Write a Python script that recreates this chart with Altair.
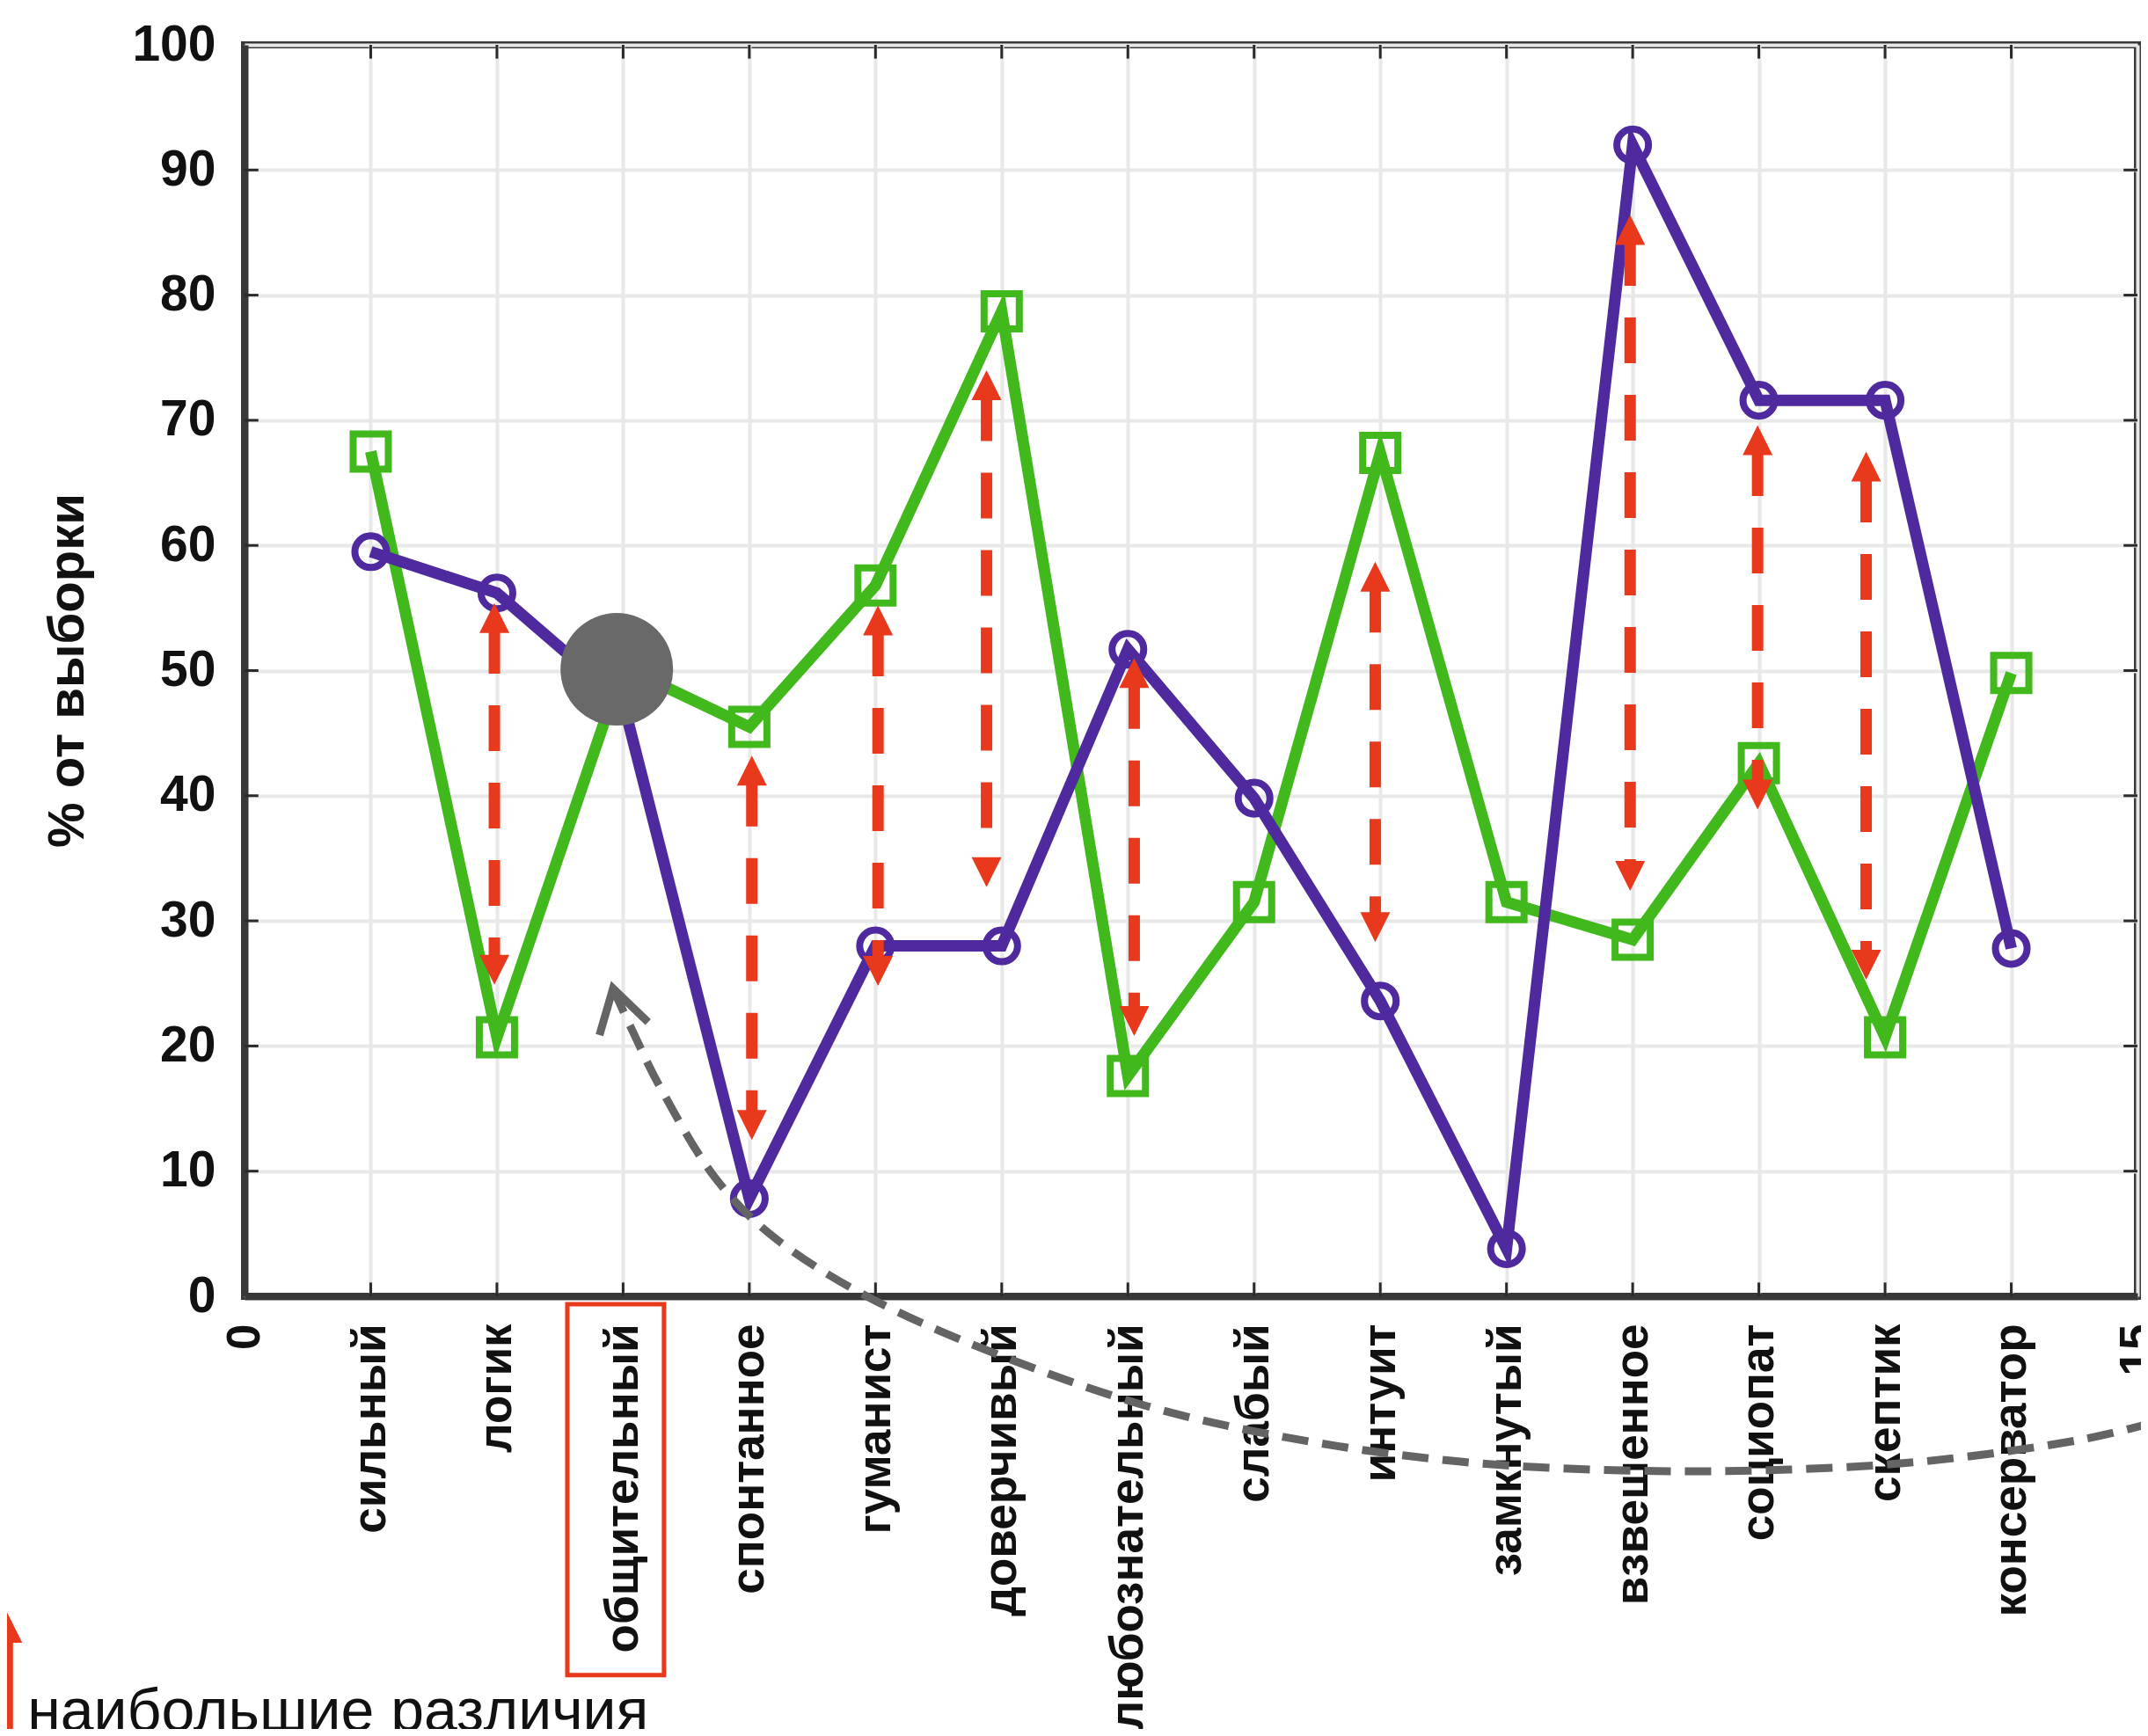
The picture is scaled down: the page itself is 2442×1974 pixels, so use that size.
import altair as alt
import pandas as pd

FONT = "Liberation Sans"

# ---------------- data ----------------
categories = ["сильный", "логик", "общительный", "спонтанное", "гуманист",
              "доверчивый", "любознательный", "слабый", "интуит", "замкнутый",
              "взвешенное", "социопат", "скептик", "консерватор"]
x_positions = list(range(1, 15))
purple_values = [59.5, 56.2, 47.5, 7.8, 28.0, 28.0, 51.7, 39.8, 23.6, 3.8, 92.0, 71.6, 71.6, 27.8]
green_values = [67.5, 20.7, 50.3, 45.5, 56.8, 78.7, 17.6, 31.5, 67.4, 31.5, 28.5, 42.6, 20.7, 49.8]

x_tick_values = list(range(0, 16))
x_tick_labels = ["0"] + categories + ["15"]
y_tick_values = list(range(0, 101, 10))

# red double arrows (largest differences)
arrow_x = [1.98, 4.02, 5.02, 5.88, 7.05, 8.96, 10.98, 11.99, 12.85]
arrow_top = [55.4, 43.2, 55.2, 74.0, 51.0, 58.7, 86.4, 69.6, 67.5]
arrow_bottom = [24.9, 12.5, 24.8, 32.7, 20.8, 28.3, 32.4, 38.9, 25.3]

# grey highlight dot
dot_x = [2.95]
dot_y = [50.1]

# grey dashed curved pointer (data coordinates)
curve_x = [2.92, 3.07, 3.31, 3.72, 4.21, 4.95, 5.93, 7.16, 8.38, 9.62, 10.85, 12.07, 13.3, 14.53, 15.3]
curve_y = [24.6, 21.3, 16.4, 9.6, 4.6, -0.1, -4.5, -8.8, -11.5, -13.2, -13.9, -13.9, -13.2, -11.5, -9.6]

# red frame around the "общительный" label
box_x = [2.558]
box_x2 = [3.324]
box_y = [-0.63]
box_y2 = [-30.27]

# legend
legend_text = ["наибольшие различия"]
legend_text_x = [-1.72]
legend_text_y = [-34.7]
legend_arrow_x = [-1.88]
legend_arrow_top = [-25.3]
legend_arrow_bottom = [-40.0]

y_title = "% от выборки"

# ---------------- styles ----------------
PURPLE = "#4e2a9e"
GREEN = "#41b81c"
RED = "#e8391c"
GRAY_DOT = "#696969"
GRAY_CURVE = "#646464"
FRAME = "#383838"
GRID = "#e8e8e8"

HEAD = 2.0  # arrow head overlap in data units

X_SCALE = alt.Scale(domain=[0, 15], nice=False, zero=False)
Y_SCALE = alt.Scale(domain=[0, 100], nice=False, zero=False)

label_expr = "[" + ",".join("'" + t + "'" for t in x_tick_labels) + "][datum.value]"

x_axis = alt.Axis(
    values=x_tick_values, labelExpr=label_expr, labelAngle=270,
    labelAlign="right", labelBaseline="middle", labelFont=FONT,
    labelFontSize=53, labelFontWeight="bold", labelColor="#111111",
    labelPadding=31, labelOverlap=False, labelFlush=False, labelLimit=1000,
    ticks=False, domain=True, domainColor=FRAME, domainWidth=8,
    grid=True, gridColor=GRID, gridWidth=4,
    title="",
)
y_axis = alt.Axis(
    values=y_tick_values, labelFont=FONT, labelFontSize=57,
    labelFontWeight="bold", labelColor="#111111", labelPadding=33,
    ticks=False, domain=True, domainColor=FRAME, domainWidth=8,
    grid=True, gridColor=GRID, gridWidth=4,
    title=y_title, titleFont=FONT, titleFontSize=58, titleFontWeight="bold",
    titleColor="#111111", titleAngle=270, titleAlign="center",
    titleBaseline="bottom", titleX=-172, titleY=711,
)


def X(field="x"):
    return alt.X(field + ":Q", scale=X_SCALE, axis=x_axis)


def Y(field="y"):
    return alt.Y(field + ":Q", scale=Y_SCALE, axis=y_axis)


purple_df = pd.DataFrame({"x": x_positions, "y": purple_values})
green_df = pd.DataFrame({"x": x_positions, "y": green_values})
arrows_df = pd.DataFrame({"x": arrow_x, "top": arrow_top, "bottom": arrow_bottom})
arrows_df["shaft_top"] = arrows_df["top"] - HEAD
arrows_df["shaft_bottom"] = arrows_df["bottom"] + HEAD

# inward ticks on the frame
tick_len_y = 1.1
tick_len_x = 0.11
inner_x = [v for v in x_tick_values if 0 < v < 15]
inner_y = [v for v in y_tick_values if 0 < v < 100]
xticks_df = pd.DataFrame({
    "x": inner_x * 2,
    "y": [0] * len(inner_x) + [100] * len(inner_x),
    "y2": [tick_len_y] * len(inner_x) + [100 - tick_len_y] * len(inner_x),
})
yticks_df = pd.DataFrame({
    "y": inner_y * 2,
    "x": [0] * len(inner_y) + [15] * len(inner_y),
    "x2": [tick_len_x] * len(inner_y) + [15 - tick_len_x] * len(inner_y),
})

green_line = alt.Chart(green_df).mark_line(color=GREEN, strokeWidth=13).encode(x=X(), y=Y())

xticks = alt.Chart(xticks_df).mark_rule(color="#2a2a2a", strokeWidth=3).encode(
    x=X(), y=Y(), y2="y2:Q")
yticks = alt.Chart(yticks_df).mark_rule(color="#2a2a2a", strokeWidth=3).encode(
    y=Y(), x=X(), x2="x2:Q")

green_pts = alt.Chart(green_df).mark_point(
    shape="square", size=1600, filled=False, color=GREEN, strokeWidth=8, opacity=1
).encode(x=X(), y=Y())

purple_line = alt.Chart(purple_df).mark_line(color=PURPLE, strokeWidth=13).encode(x=X(), y=Y())
purple_pts = alt.Chart(purple_df).mark_point(
    shape="circle", size=1300, filled=False, color=PURPLE, strokeWidth=8, opacity=1
).encode(x=X(), y=Y())

shafts = alt.Chart(arrows_df).mark_rule(
    color=RED, strokeWidth=13, strokeDash=[52, 36]
).encode(x=X(), y=Y("shaft_top"), y2="shaft_bottom:Q")
heads_up = alt.Chart(arrows_df).mark_point(
    shape="M0,0L1,2L-1,2Z", size=1156, filled=True, color=RED, opacity=1
).encode(x=X(), y=Y("top"))
heads_down = alt.Chart(arrows_df).mark_point(
    shape="M0,0L1,-2L-1,-2Z", size=1156, filled=True, color=RED, opacity=1
).encode(x=X(), y=Y("bottom"))

dot = alt.Chart(pd.DataFrame({"x": dot_x, "y": dot_y})).mark_point(
    shape="circle", size=16384, filled=True, color=GRAY_DOT, opacity=1
).encode(x=X(), y=Y())

curve_df = pd.DataFrame({"x": curve_x, "y": curve_y})
curve = alt.Chart(curve_df).mark_line(
    color=GRAY_CURVE, strokeWidth=9, strokeDash=[30, 16], interpolate="cardinal"
).encode(x=X(), y=Y())
chevron = alt.Chart(curve_df.head(1)).mark_point(
    shape="M-0.52,0.86L0,0L0.52,0.86", size=12100, filled=False,
    color=GRAY_CURVE, strokeWidth=9, angle=345, opacity=1
).encode(x=X(), y=Y())

box = alt.Chart(pd.DataFrame({"x": box_x, "x2": box_x2, "y": box_y, "y2": box_y2})).mark_rect(
    filled=False, stroke=RED, strokeWidth=5, fillOpacity=0
).encode(x=X(), x2="x2:Q", y=Y(), y2="y2:Q")

legend_df = pd.DataFrame({"x": legend_arrow_x, "top": legend_arrow_top, "bottom": legend_arrow_bottom})
legend_df["shaft_top"] = legend_df["top"] - HEAD
legend_shaft = alt.Chart(legend_df).mark_rule(color=RED, strokeWidth=13).encode(
    x=X(), y=Y("shaft_top"), y2="bottom:Q")
legend_head = alt.Chart(legend_df).mark_point(
    shape="M0,0L1,2L-1,2Z", size=1156, filled=True, color=RED, opacity=1
).encode(x=X(), y=Y("top"))
legend_label = alt.Chart(pd.DataFrame({"x": legend_text_x, "y": legend_text_y, "t": legend_text})).mark_text(
    align="left", baseline="alphabetic", font=FONT, fontSize=68, color="#111111"
).encode(x=X(), y=Y(), text="t:N")

chart = alt.layer(
    green_line, xticks, yticks, green_pts, purple_line, purple_pts,
    shafts, heads_up, heads_down, dot, curve, chevron, box,
    legend_shaft, legend_head, legend_label,
).properties(
    width=2152, height=1423,
    padding={"left": 270, "top": 43, "right": 4, "bottom": 492},
    autosize=alt.AutoSizeParams(type="none"),
    background="white",
).configure_view(
    stroke=FRAME, strokeWidth=8
)

chart.save("out.html", embed_options={"renderer": "svg", "actions": False})
